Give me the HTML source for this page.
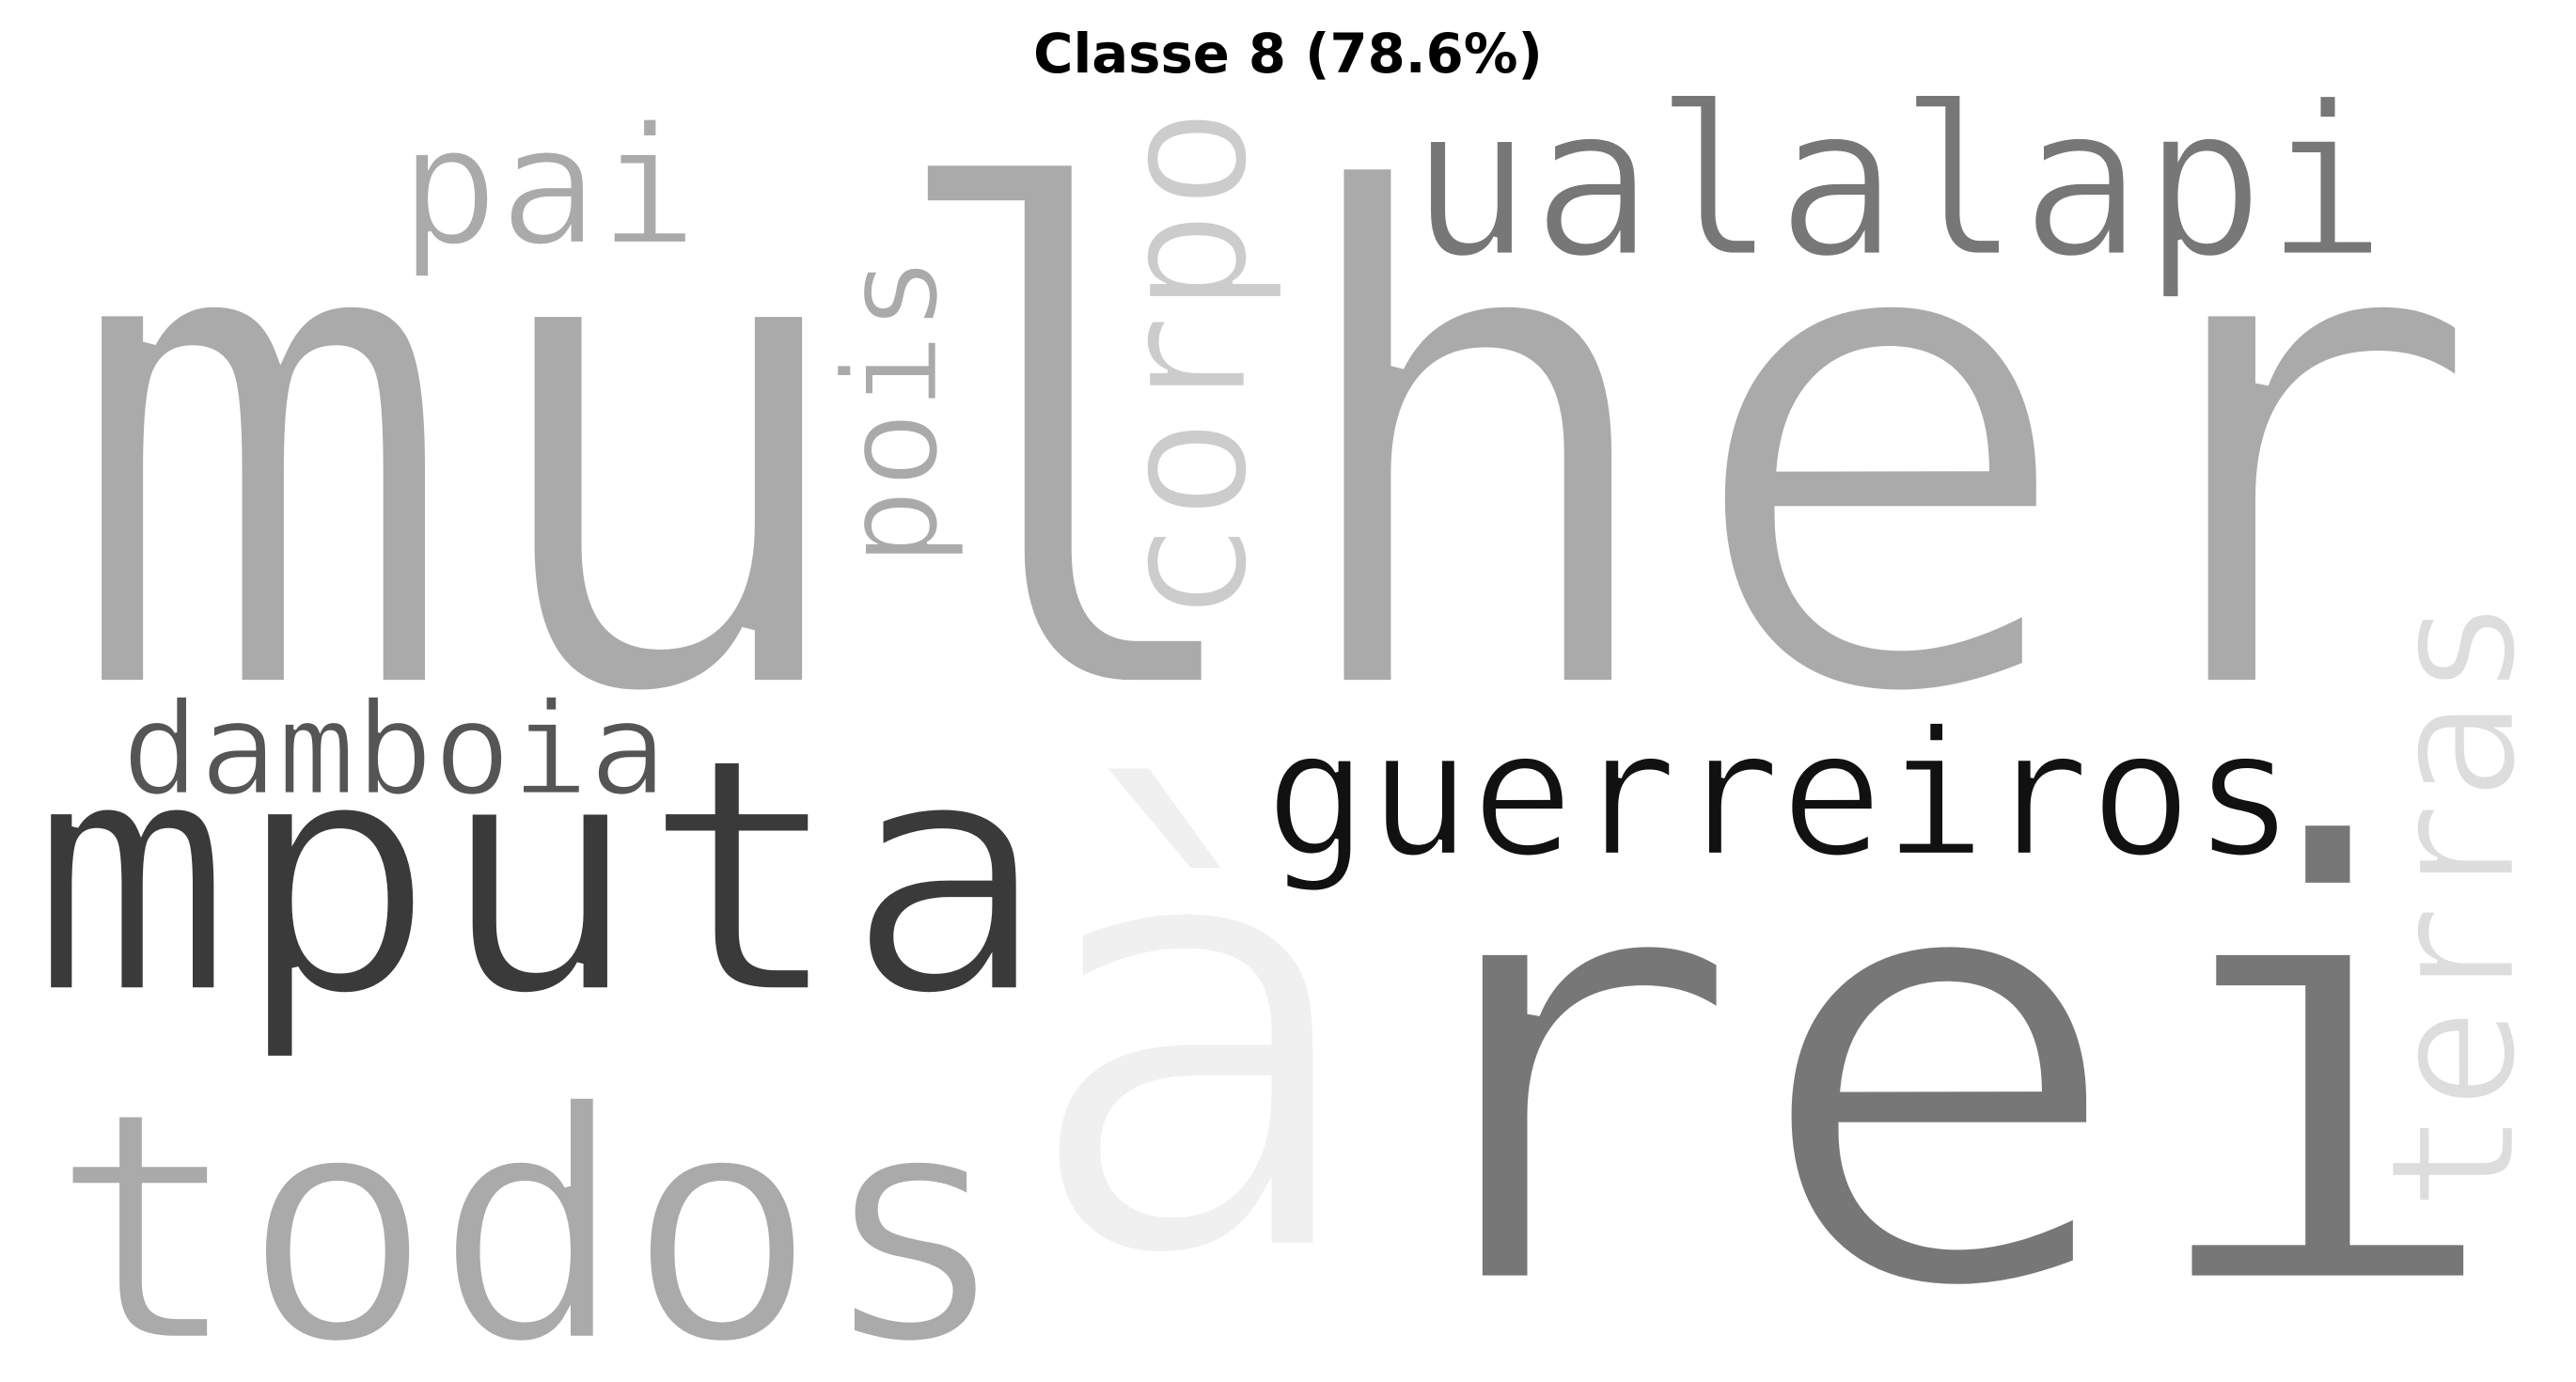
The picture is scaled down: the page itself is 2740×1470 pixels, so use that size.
<!DOCTYPE html>
<html><head><meta charset="utf-8"><style>
html,body{margin:0;padding:0;background:#fff;}
svg{display:block;}
</style></head><body>
<svg id="cloud" width="2740" height="1470" viewBox="0 0 1568 841.2" xmlns="http://www.w3.org/2000/svg">
<rect width="1568" height="841.2" fill="#fff"/>
<text x="784" y="44" text-anchor="middle" font-family="'DejaVu Sans','Liberation Sans',sans-serif" font-weight="bold" font-size="33" fill="#000">Classe 8 (78.6%)</text>
</svg>
<script>
const words=["mulher","ualalapi","pai","corpo","pois","terras","damboia","mputa","guerreiros.","todos","à","rei"];
const sizes=[420,128,100,108,80,106,78,200,106,195,370,370];
const xs=[36,858,243,758,570,1530,74,18,770,30,618,830];
const ys=[418,155,148,380,345,738,483,603,520,815,760,780];
const colors=["#aaaaaa","#777777","#aaaaaa","#cccccc","#aaaaaa","#dddddd","#555555","#3a3a3a","#111111","#aaaaaa","#f0f0f0","#777777"];
const rotations=[0,0,0,-90,-90,-90,0,0,0,0,0,0];
const lengths=[1478,595,182,315,190,375,332,620,690,585,215,700];
const svg=document.getElementById('cloud');
const title=svg.querySelector('text');
for(let i=0;i<words.length;i++){
  const t=document.createElementNS('http://www.w3.org/2000/svg','text');
  
  
  t.setAttribute('font-family',"'DejaVu Sans Mono','Liberation Mono',monospace");
  t.setAttribute('font-size',sizes[i]);
  t.setAttribute('fill',colors[i]);
  t.setAttribute('stroke','#ffffff');
  t.setAttribute('stroke-width',sizes[i]*0.02);
  t.setAttribute('textLength',lengths[i]);
  t.setAttribute('lengthAdjust','spacingAndGlyphs');
  t.setAttribute('transform','translate('+xs[i]+','+ys[i]+') rotate('+rotations[i]+')');
  t.textContent=words[i];
  svg.insertBefore(t,title);
}
</script>
</body></html>
